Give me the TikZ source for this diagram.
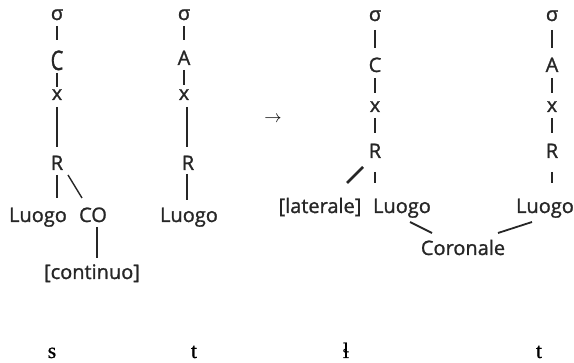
\documentclass[tikz,border=0pt]{standalone}
\usepackage{fontspec}
\setmainfont{Open Sans}
\newfontfamily\lblfont{Open Sans}[FakeBold=1.2]
\newfontfamily\ipafont{Liberation Serif}[FakeBold=0.5]
\tikzset{
  lab/.style={inner sep=0pt, anchor=base, font=\lblfont\fontsize{20}{24}\selectfont, text=black!85},
  bot/.style={inner sep=0pt, anchor=base, font=\ipafont\fontsize{22}{26}\selectfont},
  ln/.style={line width=1.4pt, black!85},
  thk/.style={line width=2.6pt, black!85},
  mid/.style={line width=1.8pt, black!85}
}
\begin{document}
\begin{tikzpicture}[x=1pt,y=-1pt]
\useasboundingbox (0,0) rectangle (574,363);
% column 1
\node[lab] (s1) at (57,20) {σ};
\node[lab] (c1) at (57,70) {\scalebox{1}[1.35]{C}};
\node[lab] (x1) at (57,100) {x};
\node[lab] (r1) at (57,170) {R};
\node[lab] (l1) at (38,222) {Luogo};
\node[lab] (co1) at (93,222) {CO};
\node[lab] (cont) at (92,279) {[continuo]};
\draw[ln] (57,26) -- (57,40);
\draw[ln] (57,73) -- (57,87);
\draw[ln] (57,107) -- (57,147);
\draw[ln] (57,175) -- (57,198);
\draw[ln] (68,175) -- (82,198);
\draw[ln] (97,227) -- (97,258);
% column 2
\node[lab] (s2) at (184,20) {σ};
\node[lab] (a2) at (184,65) {A};
\node[lab] (x2) at (184,100) {x};
\node[lab] (r2) at (188,170) {R};
\node[lab] (l2) at (189,222) {Luogo};
\draw[ln] (184,26) -- (184,40);
\draw[ln] (184,70) -- (184,85);
\draw[ln] (187,107) -- (187,147);
\draw[ln] (187,174) -- (187,200);
% arrow
\node[inner sep=0pt, font=\fontsize{18}{20}\selectfont] (arr) at (273,119) {$\rightarrow$};
% column 3
\node[lab] (s3) at (375,21) {σ};
\node[lab] (c3) at (375,72) {C};
\node[lab] (x3) at (375,112) {x};
\node[lab] (r3) at (375,158) {R};
\node[lab] (l3) at (402,213) {Luogo};
\node[lab] (lat) at (320,213) {[laterale]};
\node[lab] (cor) at (463,255) {Coronale};
\draw[ln] (375,30) -- (375,48);
\draw[ln] (375,78) -- (375,93);
\draw[ln] (375,118) -- (375,133);
\draw[ln] (375,172) -- (375,183);
\draw[thk] (363,167) -- (347,183);
\draw[mid] (410,222) -- (432,233);
\draw[mid] (498,233) -- (532,222);
% column 4
\node[lab] (s4) at (552,21) {σ};
\node[lab] (a4) at (552,72) {A};
\node[lab] (x4) at (552,112) {x};
\node[lab] (r4) at (552,158) {R};
\node[lab] (l4) at (545,213) {Luogo};
\draw[ln] (552,30) -- (552,48);
\draw[ln] (552,78) -- (552,93);
\draw[ln] (552,118) -- (552,133);
\draw[ln] (552,172) -- (552,183);
% bottom
\node[bot] (b1) at (52,358) {s};
\node[bot] (b2) at (194,358) {t};
\node[bot] (b3) at (346,358) {ɬ};
\node[bot] (b4) at (539,358) {t};
\end{tikzpicture}
\end{document}
